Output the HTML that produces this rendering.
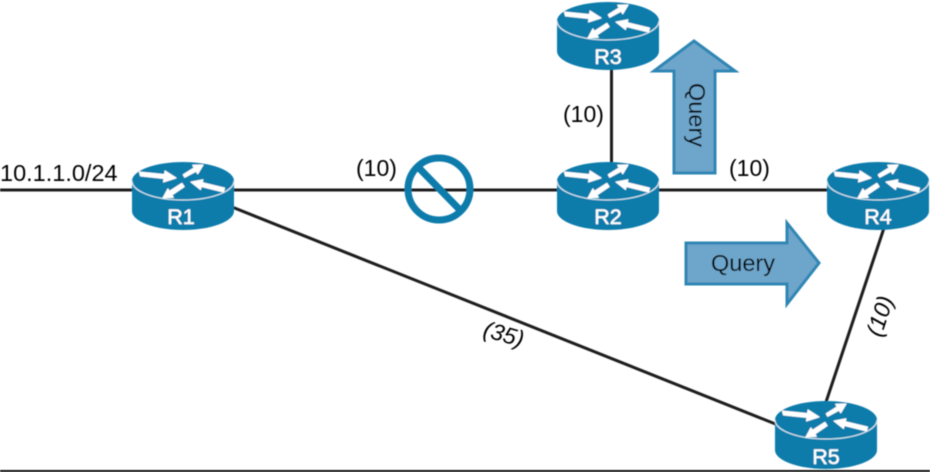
<!DOCTYPE html>
<html>
<head>
<meta charset="utf-8">
<style>
html,body{margin:0;padding:0;background:#fff;width:930px;height:472px;overflow:hidden}
svg{display:block;width:930px;height:472px}
text{font-family:"Liberation Sans",sans-serif;fill:#000;font-size:23px}
.rl{fill:#fff;font-size:21.5px;text-anchor:middle;stroke:#fff;stroke-width:.4}
</style>
</head>
<body>
<svg xmlns="http://www.w3.org/2000/svg" width="930" height="472" viewBox="0 0 930 472">
<defs>
<filter id="soft" x="-2%" y="-2%" width="104%" height="104%"><feGaussianBlur stdDeviation="0.45"/></filter>
<g id="router">
  <path d="M-51 0V30A51 19 0 0 0 51 30V0Z" fill="#0a7bab"/>
  <ellipse cx="0" cy="0" rx="51" ry="19" fill="#0a7bab"/>
  <path d="M-51 0A51 19 0 0 0 51 0" fill="none" stroke="#cfe4ee" stroke-width="1.2"/>
  <g fill="#fff" stroke="#fff" stroke-width="1.1" stroke-linejoin="round">
    <polygon points="-43.5,-9 -42.5,-5 -19,-2.5 -19.5,1 -7,-3 -18,-10 -18.5,-6.5"/>
    <polygon points="1.75,-3.7 13.2,-9.8 14.7,-7.2 20,-16 9.7,-15.8 11.2,-13.2 .25,-6.3"/>
    <polygon points="41.5,7 19.2,1.7 19.9,-1.25 8,1 17.5,8.5 18.2,5.5 40.5,11"/>
    <polygon points="1.1,5.7 -11.2,14 -9.7,16.3 -20,17 -15.1,7.9 -13.6,10.3 -1.1,2.3"/>
  </g>
</g>
</defs>

<g filter="url(#soft)">
<g stroke="#1e1e1e" stroke-width="3" fill="none">
  <line x1="0" y1="190" x2="135" y2="190"/>
  <line x1="230" y1="190" x2="560" y2="190"/>
  <line x1="655" y1="190" x2="830" y2="190"/>
  <line x1="611.5" y1="66" x2="611.5" y2="165"/>
  <line x1="884" y1="228" x2="826" y2="402"/>
  <line x1="232" y1="207" x2="778" y2="425"/>
</g>

<use href="#router" x="183" y="181"/>
<use href="#router" x="608" y="181"/>
<use href="#router" x="608" y="21"/>
<use href="#router" x="878" y="181"/>
<use href="#router" x="826" y="420"/>

<text class="rl" x="181" y="224">R1</text>
<text class="rl" x="608" y="224">R2</text>
<text class="rl" x="608" y="64">R3</text>
<text class="rl" x="878" y="224">R4</text>
<text class="rl" x="826" y="464">R5</text>

<circle cx="439" cy="189" r="31" fill="none" stroke="#0a7bab" stroke-width="7"/>
<line x1="419" y1="168" x2="460" y2="210" stroke="#0a7bab" stroke-width="7"/>

<polygon points="694,41 735,71 715,71 715,173 674,173 674,71 654,71" fill="#6ea5cb" stroke="#2f86b4" stroke-width="3"/>
<polygon points="686,243 787,243 787,223 819,263 787,304 787,284 686,284" fill="#6ea5cb" stroke="#2f86b4" stroke-width="3"/>

<text x="0" y="181" style="font-size:23.5px">10.1.1.0/24</text>
<text x="356" y="176">(10)</text>
<text x="563" y="122">(10)</text>
<text x="729" y="176">(10)</text>
<text x="711" y="271" style="font-size:23.5px">Query</text>
<text transform="translate(689,83) rotate(90)" style="font-size:23.5px">Query</text>
<text font-style="italic" transform="translate(881,338) rotate(-72)">(10)</text>
<text font-style="italic" transform="translate(482,336) rotate(16)">(35)</text>

<rect x="0" y="470" width="930" height="2" fill="#111"/>
</g>
</svg>
</body>
</html>
